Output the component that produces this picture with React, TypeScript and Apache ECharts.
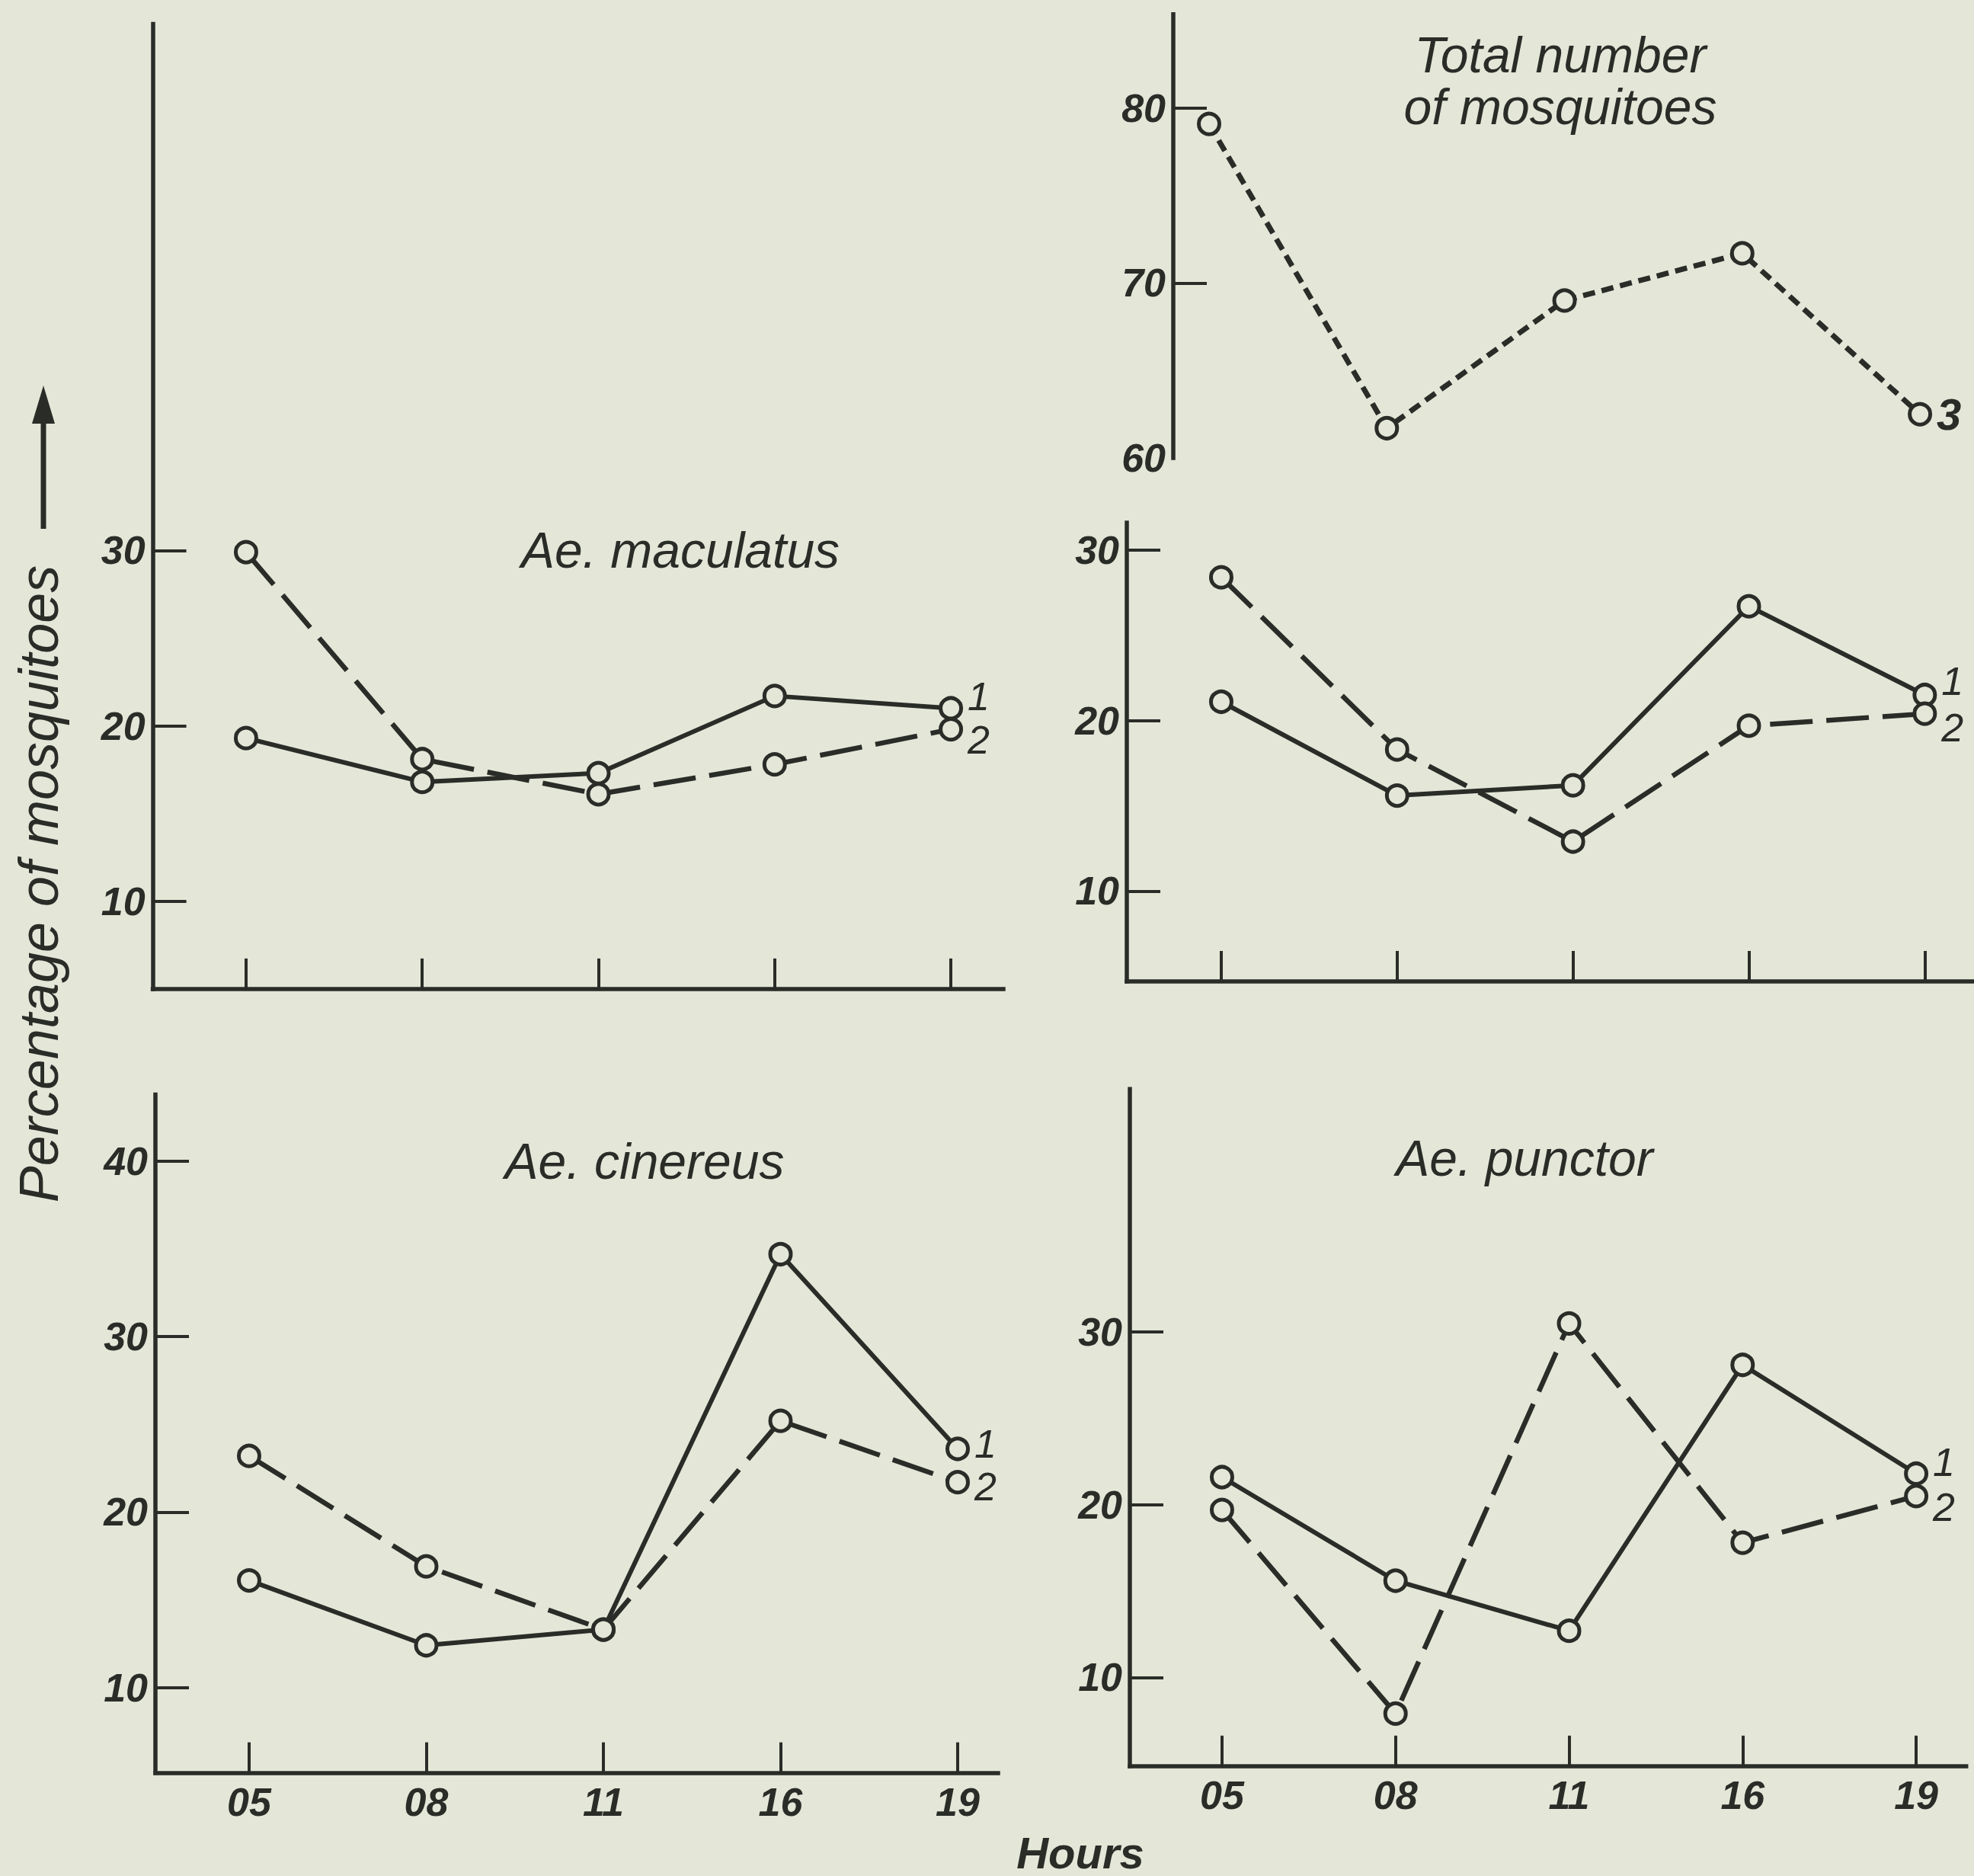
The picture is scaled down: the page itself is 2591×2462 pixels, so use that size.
import React, { useEffect, useRef } from "react";
import * as echarts from "echarts";

// ---------- data ----------
const hours = ["05", "08", "11", "16", "19"];

const maculatus1 = [19.3, 16.8, 17.3, 21.7, 21.0];
const maculatus2 = [29.9, 18.1, 16.1, 17.8, 19.8];

const totalNumber3 = [79.1, 61.7, 69.0, 71.7, 62.5];

const totalPct1 = [21.1, 15.6, 16.2, 26.7, 21.5];
const totalPct2 = [28.4, 18.3, 12.9, 19.7, 20.4];

const cinereus1 = [16.1, 12.4, 13.3, 34.7, 23.6];
const cinereus2 = [23.2, 16.9, 13.3, 25.2, 21.7];

const punctor1 = [21.6, 15.6, 12.7, 28.1, 21.8];
const punctor2 = [19.7, 7.9, 30.5, 17.8, 20.5];

const pctTicks30 = [10, 20, 30];
const pctTicks40 = [10, 20, 30, 40];
const totalTicks = [70, 80];
const totalLabels = [60, 70, 80];

const titleMaculatus = "Ae. maculatus";
const titleTotal1 = "Total number";
const titleTotal2 = "of mosquitoes";
const titleCinereus = "Ae. cinereus";
const titlePunctor = "Ae. punctor";
const yName = "Percentage of mosquitoes";
const xName = "Hours";

// ---------- styles ----------
const INK = "#2a2c28";
const BG = "#e4e7d8";
const FONT = "'Liberation Sans', Arial, 'DejaVu Sans', sans-serif";

const idx = hours.map((_, i) => i);

function xAxisCfg(gridIndex: number, min: number, max: number, showLabels: boolean, visible = true) {
  return {
    type: "value",
    gridIndex,
    min,
    max,
    show: visible,
    axisLine: { show: true, onZero: false, lineStyle: { color: INK, width: 5.5, cap: "square" } },
    axisTick: {
      show: true,
      inside: true,
      length: 40,
      customValues: idx,
      lineStyle: { color: INK, width: 4 },
    },
    axisLabel: {
      show: showLabels,
      customValues: idx,
      formatter: (v: number) => hours[Math.round(v)] ?? "",
      margin: 12,
      color: INK,
      fontSize: 52,
      fontStyle: "italic",
      fontWeight: "bold",
      fontFamily: FONT,
    },
    splitLine: { show: false },
  };
}

function yAxisCfg(gridIndex: number, min: number, max: number, tickVals: number[], labelVals: number[]) {
  return {
    type: "value",
    gridIndex,
    min,
    max,
    axisLine: { show: true, onZero: false, lineStyle: { color: INK, width: 5.5, cap: "square" } },
    axisTick: {
      show: true,
      inside: true,
      length: 44,
      customValues: tickVals,
      lineStyle: { color: INK, width: 4 },
    },
    axisLabel: {
      show: true,
      customValues: labelVals,
      margin: 10,
      color: INK,
      fontSize: 52,
      fontStyle: "italic",
      fontWeight: "bold",
      fontFamily: FONT,
    },
    splitLine: { show: false },
  };
}

const solidLine = { color: INK, width: 6, type: "solid" as any };
const dashedLine = { color: INK, width: 6.5, type: [56, 18] as any };
const dottedLine = { color: INK, width: 7, type: [16, 9] as any };

function lineSeries(
  axisIndex: number,
  vals: number[],
  lineStyle: any,
  tag: string,
  tagOffset: number[],
  tagBold = false,
  tagSize = 52
) {
  const data = vals.map((v, i) =>
    i === vals.length - 1
      ? {
          value: [i, v],
          label: {
            show: true,
            position: "right",
            distance: 6,
            offset: tagOffset,
            formatter: tag,
            color: INK,
            fontSize: tagSize,
            lineHeight: tagSize,
            fontStyle: "italic",
            fontWeight: tagBold ? "bold" : "normal",
            fontFamily: FONT,
          },
        }
      : [i, v]
  );
  return {
    type: "line",
    xAxisIndex: axisIndex,
    yAxisIndex: axisIndex,
    data,
    symbol: "circle",
    symbolSize: 27,
    showSymbol: true,
    lineStyle: { ...lineStyle, cap: "butt" },
    itemStyle: { color: BG, borderColor: INK, borderWidth: 5 },
    emphasis: { disabled: true },
    silent: true,
    z: 3,
  };
}

function textEl(text: string, x: number, y: number, size: number, bold = false, rotation = 0) {
  return {
    type: "text",
    x,
    y,
    rotation,
    style: {
      text,
      fill: INK,
      font: `italic ${bold ? "bold " : ""}${size}px ${FONT}`,
      textAlign: "center",
      textVerticalAlign: "middle",
    },
    silent: true,
  };
}

export default function App() {
  const ref = useRef<HTMLDivElement>(null);

  useEffect(() => {
    document.body.style.margin = "0";
    document.body.style.background = BG;
    if (!ref.current) return;
    const chart = echarts.init(ref.current, null, { renderer: "svg" });

    const option: any = {
      animation: false,
      backgroundColor: BG,
      grid: [
        { left: 200.6, top: 31.5, width: 1116.4, height: 1266.4, outerBoundsMode: "none" },
        { left: 1540, top: 18.7, width: 1051, height: 582.3, outerBoundsMode: "none" },
        { left: 1479, top: 686, width: 1112, height: 602, outerBoundsMode: "none" },
        { left: 204, top: 1436.5, width: 1106, height: 890.1, outerBoundsMode: "none" },
        { left: 1483, top: 1429.2, width: 1097.7, height: 888.6, outerBoundsMode: "none" },
      ],
      xAxis: [
        xAxisCfg(0, -0.529, 4.298, false),
        xAxisCfg(1, -0.2015, 4.304, false, false),
        xAxisCfg(2, -0.537, 4.28, false),
        xAxisCfg(3, -0.529, 4.228, true),
        xAxisCfg(4, -0.531, 4.288, true),
      ],
      yAxis: [
        yAxisCfg(0, 5, 60, pctTicks30, pctTicks30),
        yAxisCfg(1, 60, 85.37, totalTicks, totalLabels),
        yAxisCfg(2, 4.7, 31.6, pctTicks30, pctTicks30),
        yAxisCfg(3, 5.13, 43.8, pctTicks40, pctTicks40),
        yAxisCfg(4, 4.86, 44.08, pctTicks30, pctTicks30),
      ],
      series: [
        lineSeries(0, maculatus1, solidLine, "1", [0, -15]),
        lineSeries(0, maculatus2, dashedLine, "2", [0, 14]),
        lineSeries(1, totalNumber3, dottedLine, "3", [0, 0], true, 58),
        lineSeries(2, totalPct1, solidLine, "1", [0, -18]),
        lineSeries(2, totalPct2, dashedLine, "2", [0, 18]),
        lineSeries(3, cinereus1, solidLine, "1", [0, -6]),
        lineSeries(3, cinereus2, dashedLine, "2", [0, 6]),
        lineSeries(4, punctor1, solidLine, "1", [0, -15]),
        lineSeries(4, punctor2, dashedLine, "2", [0, 15]),
      ],
      graphic: [
        textEl(titleMaculatus, 893, 722, 66),
        textEl(titleTotal1, 2048, 72, 66),
        textEl(titleTotal2, 2048, 140, 66),
        textEl(titleCinereus, 846, 1524, 66),
        textEl(titlePunctor, 2001, 1520, 66),
        textEl(xName, 1418, 2431, 58, true),
        textEl(yName, 51, 1160, 72, false, Math.PI / 2),
        {
          type: "line",
          shape: { x1: 57, y1: 694, x2: 57, y2: 545 },
          style: { stroke: INK, lineWidth: 7 },
          silent: true,
        },
        {
          type: "polygon",
          shape: { points: [[57, 506], [42, 556], [72, 556]] },
          style: { fill: INK },
          silent: true,
        },
      ],
    };

    chart.setOption(option);
    return () => chart.dispose();
  }, []);

  return <div ref={ref} style={{ width: 2591, height: 2462, background: BG }} />;
}
